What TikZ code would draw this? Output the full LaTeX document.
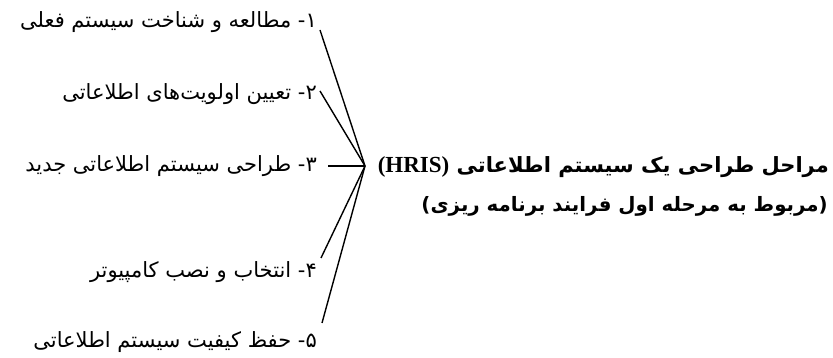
\documentclass[tikz,border=0pt]{standalone}
\usepackage{fontspec}
\TeXXeTstate=1
\newfontfamily\fa[Script=Arabic]{DejaVu Sans}
\newfontfamily\lat{Liberation Serif}
\begin{document}
\begin{tikzpicture}[x=1pt,y=-1pt,
  item/.style={anchor=base east,inner sep=0pt,font=\fa\fontsize{21}{24}\selectfont},
  ttl/.style={anchor=base east,inner sep=0pt,font=\fa\bfseries\fontsize{21}{25}\selectfont},
  link/.style={draw=black,line width=1.4pt}]
\useasboundingbox (0,0) rectangle (833,358);
\node[item] (i1) at (317,28) {\beginR ۱- مطالعه و شناخت سیستم فعلی\endR};
\node[item] (i2) at (317,100) {\beginR ۲- تعیین اولویت‌های اطلاعاتی\endR};
\node[item] (i3) at (317,172) {\beginR ۳- طراحی سیستم اطلاعاتی جدید\endR};
\node[item] (i4) at (317,277) {\beginR ۴- انتخاب و نصب کامپیوتر\endR};
\node[item] (i5) at (317,347) {\beginR ۵- حفظ کیفیت سیستم اطلاعاتی\endR};
\coordinate (hub) at (365,166);
\node[ttl] (t1) at (829,173) {\beginR مراحل طراحی یک سیستم اطلاعاتی \beginL{\lat\bfseries\fontsize{23}{25}\selectfont (HRIS)}\endL\endR};
\node[ttl,font=\fa\bfseries\fontsize{19.8}{24}\selectfont] (t2) at (828,212) {\beginR (مربوط به مرحله اول فرایند برنامه ریزی)\endR};
\draw[link] ([shift={(3,2)}]i1.base east) -- (hub);
\draw[link] ([shift={(3,-9)}]i2.base east) -- (hub);
\draw[link] ([shift={(11,-6)}]i3.base east) -- (hub);
\draw[link] ([shift={(4,-19)}]i4.base east) -- (hub);
\draw[link] ([shift={(5,-24)}]i5.base east) -- (hub);
\end{tikzpicture}
\end{document}
